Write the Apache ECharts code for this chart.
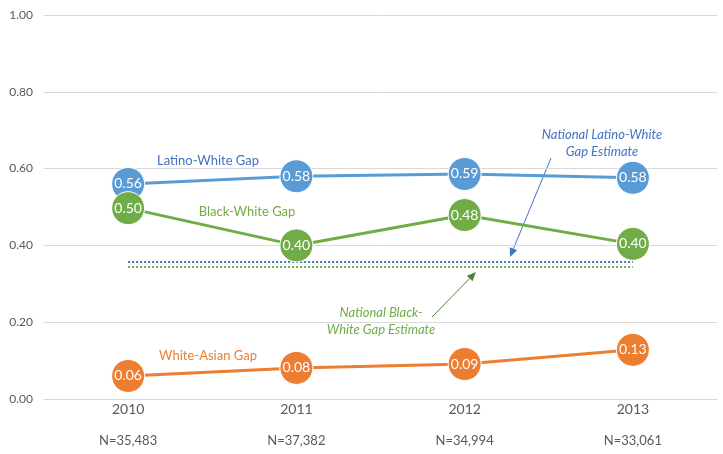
<!DOCTYPE html>
<html>
<head>
<meta charset="utf-8">
<script src="https://cdn.jsdelivr.net/npm/echarts@6/dist/echarts.min.js"></script>
<style>
  html, body { margin: 0; padding: 0; background: #fff; }
  #chart { width: 723px; height: 454px; }
</style>
</head>
<body>
<div id="chart"></div>
<script>
const years = ["2010", "2011", "2012", "2013"];
const sampleSizes = ["N=35,483", "N=37,382", "N=34,994", "N=33,061"];
const latinoWhite = [0.56, 0.58, 0.586, 0.576];
const blackWhite = [0.497, 0.40, 0.479, 0.404];
const whiteAsian = [0.06, 0.081, 0.091, 0.128];
// national estimates (dotted reference lines)
const nationalLatinoWhite = [0.357, 0.357, 0.357, 0.357];
const nationalBlackWhite = [0.344, 0.344, 0.344, 0.344];

const BLUE = "#5B9BD5";
const GREEN = "#70AD47";
const ORANGE = "#ED7D31";
const FONT = "Lato, 'Open Sans', sans-serif";

const chart = echarts.init(document.getElementById("chart"));

function gapSeries(name, data, color) {
  return {
    name: name,
    type: "line",
    data: data,
    symbol: "circle",
    symbolSize: 33,
    lineStyle: { color: color, width: 3 },
    itemStyle: { color: color, borderColor: "#fff", borderWidth: 1 },
    label: {
      show: true,
      position: "inside",
      color: "#fff",
      fontSize: 14,
      fontFamily: "Lato, sans-serif",
      formatter: (p) => p.value.toFixed(2),
    },
    z: 3,
  };
}

function dottedSeries(data, color) {
  return {
    type: "line",
    data: data,
    symbol: "none",
    silent: true,
    lineStyle: { color: color, width: 2, type: [2, 2] },
    z: 2,
  };
}

// arrow from (x1,y1) to (x2,y2) as graphic elements
function arrow(x1, y1, x2, y2, color) {
  const a = Math.atan2(y2 - y1, x2 - x1);
  const len = 9, w = 4;
  const bx = x2 - len * Math.cos(a), by = y2 - len * Math.sin(a);
  return [
    {
      type: "line",
      shape: { x1: x1, y1: y1, x2: bx, y2: by },
      style: { stroke: color, lineWidth: 1 },
    },
    {
      type: "polygon",
      shape: {
        points: [
          [x2, y2],
          [bx + w * Math.sin(a), by - w * Math.cos(a)],
          [bx - w * Math.sin(a), by + w * Math.cos(a)],
        ],
      },
      style: { fill: color },
    },
  ];
}

function note(x, y, text, color, italic) {
  return {
    type: "text",
    x: x,
    y: y,
    style: {
      text: text,
      fill: color,
      font: (italic ? "italic " : "") + "13px " + FONT,
      align: "center",
      verticalAlign: "middle",
      lineHeight: 17,
    },
  };
}

const option = {
  animation: false,
  grid: { left: 44, right: 6, top: 15, bottom: 55 },
  xAxis: {
    type: "category",
    data: years,
    axisLine: { lineStyle: { color: "#D9D9D9", width: 1 } },
    axisTick: { show: false },
    axisLabel: {
      margin: 2,
      formatter: (v, i) => "{y|" + v + "}\n{n|" + sampleSizes[i] + "}",
      rich: {
        y: { fontSize: 14, color: "#595959", lineHeight: 16, fontFamily: FONT },
        n: { fontSize: 13, color: "#595959", lineHeight: 48, fontFamily: FONT },
      },
    },
  },
  yAxis: {
    type: "value",
    min: 0,
    max: 1,
    interval: 0.2,
    axisLine: { show: false },
    axisTick: { show: false },
    splitLine: { lineStyle: { color: "#D9D9D9", width: 1 } },
    axisLabel: {
      margin: 11,
      color: "#595959",
      fontSize: 12,
      fontFamily: FONT,
      formatter: (v) => v.toFixed(2),
    },
  },
  series: [
    dottedSeries(nationalLatinoWhite, "#4472C4"),
    dottedSeries(nationalBlackWhite, GREEN),
    gapSeries("Latino-White Gap", latinoWhite, BLUE),
    gapSeries("Black-White Gap", blackWhite, GREEN),
    gapSeries("White-Asian Gap", whiteAsian, ORANGE),
  ],
  graphic: [
    note(208, 161, "Latino-White Gap", "#4472C4", false),
    note(247, 212, "Black-White Gap", GREEN, false),
    note(208, 356, "White-Asian Gap", ORANGE, false),
    note(602, 143, "National Latino-White\nGap Estimate", "#4472C4", true),
    note(381, 321, "National Black-\nWhite Gap Estimate", GREEN, true),
    ...arrow(551, 158, 510, 257, "#4472C4"),
    ...arrow(432, 317, 476, 272, "#548235"),
  ],
};

chart.setOption(option);
</script>
</body>
</html>
